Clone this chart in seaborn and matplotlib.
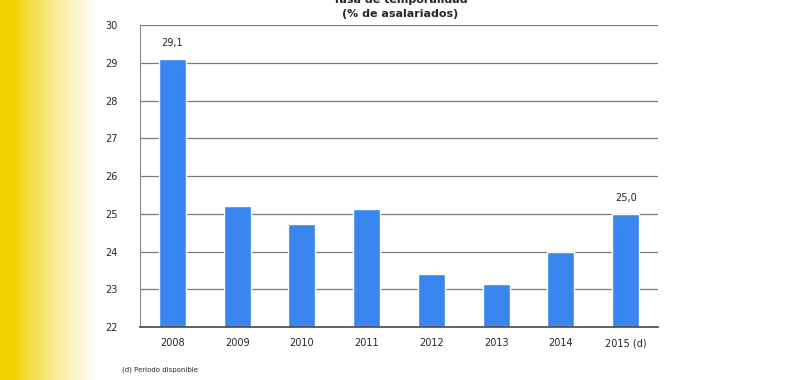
import numpy as np
import pandas as pd
import seaborn as sns
import matplotlib.pyplot as plt

years = ['2008', '2009', '2010', '2011', '2012', '2013', '2014', '2015 (d)']
rate = [29.1, 25.22, 24.74, 25.14, 23.42, 23.15, 24.0, 25.0]
shown_labels = {0: '29,1', 7: '25,0'}

df = pd.DataFrame({'year': years, 'rate': rate})

sns.set_style('white')
plt.rcParams['font.family'] = ['DejaVu Sans']

fig = plt.figure(figsize=(8, 3.8), dpi=100)

# yellow fade on the left edge
bg = fig.add_axes([0, 0, 0.12, 1])
grad = np.linspace(0, 1, 200)
alpha = np.clip((grad - 0.15) / 0.85, 0, 1) ** 0.8
img = np.zeros((1, 200, 3))
yellow = np.array([240, 208, 0]) / 255
for i, a in enumerate(alpha):
    img[0, i] = yellow * (1 - a) + np.ones(3) * a
bg.imshow(img, aspect='auto', extent=[0, 1, 0, 1])
bg.axis('off')

ax = fig.add_axes([0.175, 0.139, 0.6475, 0.795])
sns.barplot(data=df, x='year', y='rate', color='#3A86F0', width=0.42,
            saturation=1, ax=ax)
ax.set_ylim(22, 30)
ax.set_xlim(-0.5, 7.5)
ax.set_yticks(range(22, 31))
ax.yaxis.grid(True, color='#7a7a7a', linewidth=0.9)
ax.set_axisbelow(True)
ax.set_xlabel('')
ax.set_ylabel('')
for s in ['top', 'right']:
    ax.spines[s].set_visible(False)
ax.spines['left'].set_color('#8a8a8a')
ax.spines['bottom'].set_color('#555555')
ax.spines['bottom'].set_linewidth(1.3)
ax.tick_params(axis='y', length=4, color='#8a8a8a', labelsize=7, pad=12)
ax.tick_params(axis='x', length=0, labelsize=7, pad=8)

for i, txt in shown_labels.items():
    ax.text(i, rate[i] + 0.3, txt, ha='center', va='bottom', fontsize=7)

fig.text(0.5, 1.0, 'Tasa de temporalidad', ha='center', va='center',
         fontsize=8, fontweight='bold')
fig.text(0.5, 0.963, '(% de asalariados)', ha='center', va='center',
         fontsize=8, fontweight='bold')
fig.text(0.152, 0.028, '(d) Periodo disponible', ha='left', va='center',
         fontsize=5)

fig.savefig('out.png', dpi=100)
